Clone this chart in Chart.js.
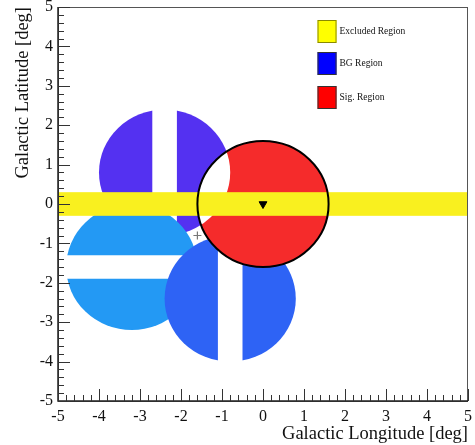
<!DOCTYPE html>
<html>
<head>
<meta charset="utf-8">
<script src="https://cdn.jsdelivr.net/npm/chart.js@4.4.0/dist/chart.umd.min.js"></script>
<style>
    html, body { margin: 0; padding: 0; background: #fff; }
    #wrap { width: 475px; height: 445px; }
</style>
</head>
<body>
<div id="wrap"><canvas id="sky"></canvas></div>
<script>
// axis range and tick labels [deg]
const axisMin = -5;
const axisMax = 5;
const tickValues = [-5, -4, -3, -2, -1, 0, 1, 2, 3, 4, 5];
const minorPerMajor = 5;

// source (signal region centre) and pointing position
const sourceX = [0];
const sourceY = [0];
const pointingX = [-1.6];
const pointingY = [-0.8];
const regionRadius = 1.6;

// background regions, in drawing order
const bgCentersX = [-2.4, -3.2, -0.8];
const bgCentersY = [0.8, -1.6, -2.4];
const bgColors = ['#5431f1', '#2399f4', '#2e63f5'];
const bgStripeDir = ['v', 'h', 'v'];   // excluded stripe through each bg region

// excluded band (galactic plane), half width in deg
const bandHalfWidth = 0.3;

const legendLabels = ['Excluded Region', 'BG Region', 'Sig. Region'];
const legendColors = ['#ffff00', '#0000ff', '#ff0000'];
const legendBorders = ['#8a8a00', '#333333', '#333333'];

const sigColor = '#f52b2b';
const bandColor = '#f9f01f';

const serif = "'Liberation Serif', 'DejaVu Serif', serif";

function ellipsePath(ctx, x, y, cx, cy, r) {
    const px = x.getPixelForValue(cx);
    const py = y.getPixelForValue(cy);
    const rx = Math.abs(x.getPixelForValue(cx + r) - px);
    const ry = Math.abs(y.getPixelForValue(cy + r) - py);
    ctx.beginPath();
    ctx.ellipse(px, py, rx, ry, 0, 0, Math.PI * 2);
}

const regionsPlugin = {
    id: 'regions',
    beforeDatasetsDraw(chart) {
        const { ctx, chartArea: a, scales: { x, y } } = chart;
        ctx.save();
        ctx.beginPath();
        ctx.rect(a.left, a.top, a.width, a.height);
        ctx.clip();

        // background regions with their stripe cut out
        bgCentersX.forEach((cx, i) => {
            const cy = bgCentersY[i];
            ctx.save();
            ctx.beginPath();
            ctx.rect(a.left, a.top, a.width, a.height);
            if (bgStripeDir[i] === 'v') {
                const l = x.getPixelForValue(cx - bandHalfWidth);
                const r = x.getPixelForValue(cx + bandHalfWidth);
                ctx.rect(l, a.top, r - l, a.height);
            } else {
                const t = y.getPixelForValue(cy + bandHalfWidth);
                const b = y.getPixelForValue(cy - bandHalfWidth);
                ctx.rect(a.left, t, a.width, b - t);
            }
            ctx.clip('evenodd');
            ellipsePath(ctx, x, y, cx, cy, regionRadius);
            ctx.fillStyle = bgColors[i];
            ctx.fill();
            ctx.restore();
        });

        // signal region
        ellipsePath(ctx, x, y, sourceX[0], sourceY[0], regionRadius);
        ctx.fillStyle = sigColor;
        ctx.fill();

        // overlap of signal region with the first bg region stays empty
        ctx.save();
        ellipsePath(ctx, x, y, sourceX[0], sourceY[0], regionRadius);
        ctx.clip();
        ellipsePath(ctx, x, y, bgCentersX[0], bgCentersY[0], regionRadius);
        ctx.fillStyle = '#ffffff';
        ctx.fill();
        ctx.restore();

        // excluded band
        const bt = y.getPixelForValue(bandHalfWidth);
        const bb = y.getPixelForValue(-bandHalfWidth);
        ctx.fillStyle = bandColor;
        ctx.fillRect(a.left, bt, a.width, bb - bt);

        // signal region outline
        ellipsePath(ctx, x, y, sourceX[0], sourceY[0], regionRadius);
        ctx.lineWidth = 2;
        ctx.strokeStyle = '#000';
        ctx.stroke();
        ctx.restore();
    },
    afterDraw(chart) {
        const { ctx, chartArea: a, scales: { x, y } } = chart;
        ctx.save();
        // frame
        ctx.strokeStyle = '#555';
        ctx.lineWidth = 1;
        ctx.strokeRect(a.left + 0.5, a.top + 0.5, a.width - 1, a.height);
        ctx.strokeStyle = '#222';
        ctx.lineWidth = 1.5;
        ctx.beginPath();
        ctx.moveTo(a.left, a.top);
        ctx.lineTo(a.left, a.bottom);
        ctx.lineTo(a.right, a.bottom);
        ctx.stroke();

        // inward ticks, major and minor
        ctx.lineWidth = 1;
        ctx.strokeStyle = '#333';
        ctx.beginPath();
        for (let i = 0; i < tickValues.length; i++) {
            const v = tickValues[i];
            const xp = Math.round(x.getPixelForValue(v)) + 0.5;
            const yp = Math.round(y.getPixelForValue(v)) + 0.5;
            ctx.moveTo(xp, a.bottom);
            ctx.lineTo(xp, a.bottom - 12);
            ctx.moveTo(a.left, yp);
            ctx.lineTo(a.left + 12, yp);
            if (i < tickValues.length - 1) {
                const step = (tickValues[i + 1] - v) / minorPerMajor;
                for (let k = 1; k < minorPerMajor; k++) {
                    const m = v + k * step;
                    const xm = Math.round(x.getPixelForValue(m)) + 0.5;
                    const ym = Math.round(y.getPixelForValue(m)) + 0.5;
                    ctx.moveTo(xm, a.bottom);
                    ctx.lineTo(xm, a.bottom - 6);
                    ctx.moveTo(a.left, ym);
                    ctx.lineTo(a.left + 6, ym);
                }
            }
        }
        ctx.stroke();

        // legend
        const bx = a.left + a.width * 0.633;
        const bw = 19, bh = 23;
        const tops = [a.top + 13, a.top + 45, a.top + 79];
        ctx.font = '9.5px ' + serif;
        ctx.textBaseline = 'middle';
        ctx.textAlign = 'left';
        legendLabels.forEach((lab, i) => {
            ctx.fillStyle = legendColors[i];
            ctx.fillRect(bx, tops[i], bw, bh);
            ctx.strokeStyle = legendBorders[i];
            ctx.lineWidth = 1;
            ctx.strokeRect(bx + 0.5, tops[i] + 0.5, bw - 1, bh - 1);
            ctx.fillStyle = '#111';
            ctx.fillText(lab, bx + bw + 3, tops[i] + bh / 2);
        });
        ctx.restore();
    }
};

function fixScale(size) {
    return (scale) => {
        if (scale.isHorizontal()) scale.height = size; else scale.width = size;
        scale.paddingTop = 0;
        scale.paddingBottom = 0;
        scale.paddingLeft = 0;
        scale.paddingRight = 0;
    };
}

new Chart(document.getElementById('sky'), {
    type: 'scatter',
    data: {
        datasets: [{
            label: 'Source',
            data: sourceX.map((v, i) => ({ x: v, y: sourceY[i] })),
            pointStyle: 'triangle',
            rotation: 180,
            radius: 4.5,
            backgroundColor: '#000',
            borderColor: '#000',
            borderWidth: 1
        }, {
            label: 'Pointing',
            data: pointingX.map((v, i) => ({ x: v, y: pointingY[i] })),
            pointStyle: 'cross',
            radius: 4,
            borderColor: '#777',
            borderWidth: 1.2
        }]
    },
    options: {
        responsive: true,
        maintainAspectRatio: false,
        animation: false,
        layout: { padding: { top: 7, right: 7, left: 0, bottom: 0 } },
        plugins: {
            legend: { display: false },
            tooltip: { enabled: false }
        },
        scales: {
            x: {
                type: 'linear',
                min: axisMin,
                max: axisMax,
                afterFit: fixScale(44),
                afterBuildTicks: (s) => { s.ticks = tickValues.map(v => ({ value: v })); },
                grid: { display: false, drawTicks: false },
                border: { display: false },
                ticks: {
                    autoSkip: false,
                    maxRotation: 0,
                    padding: 6,
                    color: '#111',
                    font: { family: serif, size: 16 }
                },
                title: {
                    display: true,
                    text: 'Galactic Longitude [deg]',
                    align: 'end',
                    color: '#111',
                    padding: { top: 3, bottom: 0 },
                    font: { family: serif, size: 18.5 }
                }
            },
            y: {
                type: 'linear',
                min: axisMin,
                max: axisMax,
                afterFit: fixScale(58),
                afterBuildTicks: (s) => { s.ticks = tickValues.map(v => ({ value: v })); },
                grid: { display: false, drawTicks: false },
                border: { display: false },
                ticks: {
                    autoSkip: false,
                    padding: 5,
                    color: '#111',
                    font: { family: serif, size: 16 }
                },
                title: {
                    display: true,
                    text: 'Galactic Latitude [deg]',
                    align: 'end',
                    color: '#111',
                    padding: { top: 12, bottom: 0 },
                    font: { family: serif, size: 18.5 }
                }
            }
        }
    },
    plugins: [regionsPlugin]
});
</script>
</body>
</html>
